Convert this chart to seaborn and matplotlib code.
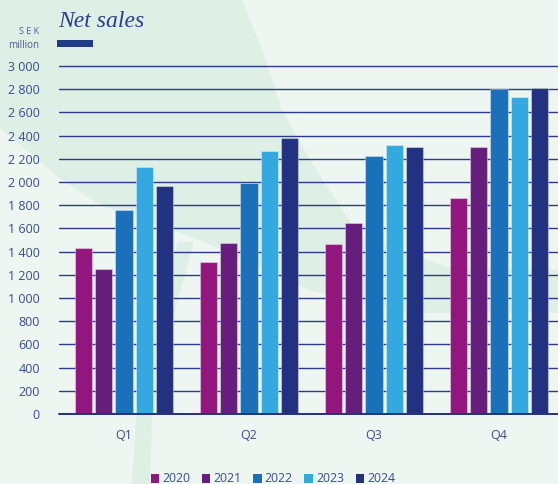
import matplotlib
matplotlib.use("Agg")
import matplotlib.pyplot as plt
from matplotlib.patches import Polygon, Rectangle, Patch
import seaborn as sns
import pandas as pd

# ---- data ----
quarters = ["Q1", "Q2", "Q3", "Q4"]
years = ["2020", "2021", "2022", "2023", "2024"]
sales_2020 = [1435, 1307, 1466, 1865]
sales_2021 = [1253, 1476, 1649, 2299]
sales_2022 = [1759, 1989, 2228, 2798]
sales_2023 = [2129, 2268, 2319, 2733]
sales_2024 = [1968, 2378, 2302, 2808]
yticks = list(range(0, 3001, 200))
ytick_labels = ["{:,}".format(v).replace(",", " ") for v in yticks]
colors = ["#93167F", "#661E7D", "#1A70B9", "#34A8E0", "#233280"]

series = [sales_2020, sales_2021, sales_2022, sales_2023, sales_2024]
rows = []
for y, vals in zip(years, series):
    for q, v in zip(quarters, vals):
        rows.append({"Quarter": q, "Year": y, "Sales": v})
df = pd.DataFrame(rows)

sns.set_theme(style="white")
plt.rcParams["font.family"] = ["Open Sans", "DejaVu Sans"]

W, H = 558, 484
fig = plt.figure(figsize=(W / 100, H / 100), dpi=100)
bg = "#EDF6F1"
dark = "#DEEFE6"
fig.patch.set_facecolor(bg)

def px(pts):
    return [(x / W, 1 - y / H) for x, y in pts]

band = [(0, 0), (242, 0), (262, 50), (282, 110), (310, 160), (360, 237),
        (447, 267), (558, 270), (558, 313), (400, 313), (310, 290),
        (200, 240), (100, 205), (60, 178), (0, 128)]
arc = [(178, 242), (194, 242), (178, 300), (162, 360), (152, 420), (150, 484),
       (132, 484), (136, 420), (148, 350), (162, 295)]
for shape in (band, arc):
    fig.patches.append(Polygon(px(shape), closed=True, transform=fig.transFigure,
                               facecolor=dark, edgecolor="none", zorder=-5))

ax = fig.add_axes([59 / W, 70 / H, (W - 59) / W, 352.6 / H], zorder=2)
ax.set_facecolor("none")

sns.barplot(data=df, x="Quarter", y="Sales", hue="Year", palette=colors,
            width=0.81, gap=0.15, ax=ax, legend=False, zorder=3,
            edgecolor=(1, 1, 1, 0.35), linewidth=0.8, saturation=1)

navy = "#2E3A88"
txt = "#3B4A8F"
ax.set_ylim(0, 3040)
ax.set_xlim(-0.52, 3.472)
ax.set_yticks(yticks)
ax.set_yticklabels(ytick_labels)
ax.yaxis.grid(True, color=navy, linewidth=1.0, zorder=1)
ax.set_axisbelow(True)
ax.axhline(0, color="#243080", linewidth=1.4, zorder=4, clip_on=False)
for s in ax.spines.values():
    s.set_visible(False)
ax.tick_params(axis="y", length=0, pad=13.7, labelsize=9, labelcolor=txt)
ax.tick_params(axis="x", length=0, pad=11, labelsize=9, labelcolor=txt)
ax.set_xlabel("")
ax.set_ylabel("")

handles = [Patch(facecolor=c, edgecolor="none") for c in colors]
fig.legend(handles, years, loc="center", bbox_to_anchor=(273 / W, 1 - 479 / H),
           ncol=5, frameon=False, handlelength=0.7, handleheight=0.8,
           handletextpad=0.25, columnspacing=0.95, fontsize=8.8,
           labelcolor=txt, borderaxespad=0, borderpad=0)

fig.text(58 / W, 1 - 27 / H, "Net sales", family="Liberation Serif",
         style="italic", fontsize=17, color="#2B3990", ha="left",
         va="baseline")
fig.patches.append(Rectangle((57 / W, 1 - 47 / H), 36 / W, 7 / H,
                             transform=fig.transFigure, facecolor="#1F3C88",
                             edgecolor="none", zorder=2))
fig.text(39 / W, 1 - 32 / H, "S E K", fontsize=6.5, color="#4A5A95",
         ha="right", va="center")
fig.text(39 / W, 1 - 45 / H, "million", fontsize=7, color="#4A5A95",
         ha="right", va="center")

fig.savefig("out.png", dpi=100, facecolor=fig.get_facecolor())
